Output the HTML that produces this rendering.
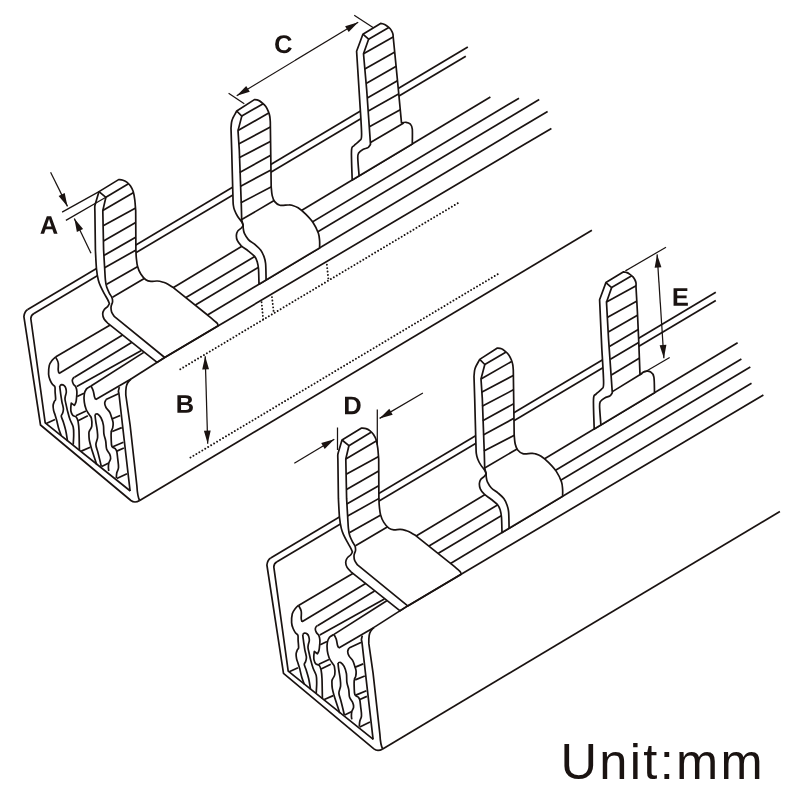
<!DOCTYPE html>
<html><head><meta charset="utf-8"><title>diagram</title>
<style>
html,body{margin:0;padding:0;background:#fff;}
svg{display:block}
.k{fill:none;stroke:#1a1311;stroke-width:1.7;stroke-linecap:butt;stroke-linejoin:round}
.kf{fill:#fff;stroke:#1a1311;stroke-width:1.7;stroke-linecap:butt;stroke-linejoin:round}
.wf{fill:#fff;stroke:none}
.t{fill:none;stroke:#1a1311;stroke-width:1.25}
.ah{fill:#1a1311;stroke:none}
.dot{fill:none;stroke:#1a1311;stroke-width:1.9;stroke-linecap:round;stroke-dasharray:0.01 3.43}
.lbl{font-family:"Liberation Sans",sans-serif;font-weight:bold;font-size:24px;fill:#1a1311;text-anchor:middle}
.unit{font-family:"Liberation Sans",sans-serif;font-size:50.6px;fill:#1a1311;letter-spacing:2.3px}
</style></head><body>
<svg width="790" height="790" viewBox="0 0 790 790">
<rect width="790" height="790" fill="#fff"/>
<g id="o1">
<line class="k" x1="27.7" y1="309.6" x2="467.8" y2="46.9"/>
<line class="k" x1="34.0" y1="313.4" x2="465.8" y2="56.2"/>
<line class="k" x1="172.7" y1="287.9" x2="490.4" y2="97.0"/>
<line class="k" x1="186.0" y1="297.6" x2="519.0" y2="98.2"/>
<line class="k" x1="195.4" y1="304.9" x2="539.2" y2="99.5"/>
<line class="k" x1="207.5" y1="315.0" x2="547.6" y2="111.4"/>
<path class="k" d="M27.7,309.6 Q24.5,311.5 23.9,316.6 L40.5,425 L130.9,500.5 Q134.7,503.5 139.7,500.5"/>
<path class="k" d="M34,313.4 Q31,315 30.8,318.5 L45.2,422.8 L130.3,491"/>
<clipPath id="tc1"><path d="M362.9,34.2 L380.6,23.4 C381.2,23.5 382.9,23.8 384.0,24.2 C385.1,24.6 386.0,25.3 387.0,26.0 C388.0,26.7 389.2,27.6 390.0,28.5 C390.8,29.4 391.5,30.6 392.0,31.6 C392.5,32.6 392.8,33.4 393.0,34.5 C393.2,35.6 393.2,37.4 393.3,38.0 L395.8,63.3 L398.4,90.0 L401.5,122.9 C402.2,122.8 404.5,122.1 406.0,122.3 C407.5,122.5 409.3,123.1 410.4,124.2 C411.4,125.3 412.0,125.9 412.3,129.2 C412.6,132.5 412.3,141.5 412.3,143.9 L352.2,180.0 C352.1,175.2 351.2,156.5 351.5,150.8 C351.8,145.1 352.6,147.4 354.0,145.7 C355.4,144.0 358.4,142.5 359.7,140.6 C361.0,138.7 361.6,141.1 361.6,134.3 C361.6,127.5 360.0,105.7 359.7,100.0 L356.6,51.3 L362.9,34.2 Z"/></clipPath>
<path class="wf" d="M362.9,34.2 L380.6,23.4 C381.2,23.5 382.9,23.8 384.0,24.2 C385.1,24.6 386.0,25.3 387.0,26.0 C388.0,26.7 389.2,27.6 390.0,28.5 C390.8,29.4 391.5,30.6 392.0,31.6 C392.5,32.6 392.8,33.4 393.0,34.5 C393.2,35.6 393.2,37.4 393.3,38.0 L395.8,63.3 L398.4,90.0 L401.5,122.9 C402.2,122.8 404.5,122.1 406.0,122.3 C407.5,122.5 409.3,123.1 410.4,124.2 C411.4,125.3 412.0,125.9 412.3,129.2 C412.6,132.5 412.3,141.5 412.3,143.9 L352.2,180.0 C352.1,175.2 351.2,156.5 351.5,150.8 C351.8,145.1 352.6,147.4 354.0,145.7 C355.4,144.0 358.4,142.5 359.7,140.6 C361.0,138.7 361.6,141.1 361.6,134.3 C361.6,127.5 360.0,105.7 359.7,100.0 L356.6,51.3 L362.9,34.2 Z"/>
<g clip-path="url(#tc1)">
<line class="k" x1="370.5" y1="142.5" x2="403.7" y2="122.9"/>
<line class="k" x1="368.6" y1="39.2" x2="389.2" y2="27.2"/>
<line class="k" x1="363.5" y1="53.8" x2="394.9" y2="36.1"/>
<line class="k" x1="364.8" y1="69.0" x2="396.2" y2="51.3"/>
<line class="k" x1="366.1" y1="83.5" x2="398.0" y2="65.3"/>
<line class="k" x1="367.3" y1="98.1" x2="399.2" y2="79.8"/>
<line class="k" x1="368.3" y1="110.9" x2="401.2" y2="92.6"/>
<line class="k" x1="369.4" y1="126.7" x2="402.5" y2="108.4"/>
</g>
<path class="k" d="M362.9,34.2 L380.6,23.4 C381.2,23.5 382.9,23.8 384.0,24.2 C385.1,24.6 386.0,25.3 387.0,26.0 C388.0,26.7 389.2,27.6 390.0,28.5 C390.8,29.4 391.5,30.6 392.0,31.6 C392.5,32.6 392.8,33.4 393.0,34.5 C393.2,35.6 393.2,37.4 393.3,38.0 L395.8,63.3 L398.4,90.0 L401.5,122.9 C402.2,122.8 404.5,122.1 406.0,122.3 C407.5,122.5 409.3,123.1 410.4,124.2 C411.4,125.3 412.0,125.9 412.3,129.2 C412.6,132.5 412.3,141.5 412.3,143.9 L352.2,180.0 C352.1,175.2 351.2,156.5 351.5,150.8 C351.8,145.1 352.6,147.4 354.0,145.7 C355.4,144.0 358.4,142.5 359.7,140.6 C361.0,138.7 361.6,141.1 361.6,134.3 C361.6,127.5 360.0,105.7 359.7,100.0 L356.6,51.3 L362.9,34.2 Z"/>
<path class="k" d="M359.1,175.9 C358.9,173.0 357.9,162.2 357.8,158.4 C357.7,154.6 357.6,154.8 358.5,153.3 C359.4,151.8 361.3,150.4 362.9,149.5 C364.5,148.6 366.7,148.4 368.0,147.6 C369.3,146.8 370.1,144.9 370.5,144.4 L366.7,90.0 L363.5,53.8 L368.6,39.2 L362.9,34.2"/>
<clipPath id="tc2"><path d="M236.7,111.0 L254.4,99.6 C255.1,99.7 257.2,99.9 258.5,100.4 C259.8,100.9 260.8,101.8 262.0,102.8 C263.2,103.8 264.7,105.0 265.8,106.5 C266.9,108.0 267.7,109.9 268.4,111.6 C269.1,113.3 269.5,114.8 269.8,116.5 C270.1,118.2 270.2,120.9 270.3,121.8 L271.2,187.0 C271.4,188.4 271.6,193.2 272.2,195.6 C272.8,198.0 273.4,200.0 274.7,201.6 C276.0,203.2 277.6,204.6 279.8,205.2 C282.0,205.8 285.9,205.0 287.9,205.0 C289.9,205.0 290.3,204.8 292.0,205.3 C293.7,205.8 295.8,206.3 298.1,207.8 C300.4,209.3 303.2,211.7 305.7,214.2 C308.2,216.7 311.2,219.8 313.3,223.0 C315.4,226.2 317.3,230.2 318.4,233.2 C319.4,236.2 319.4,238.4 319.6,240.8 C319.8,243.2 319.6,246.7 319.6,247.9 L266.1,279.9 L259.0,284.2 C258.9,281.6 258.8,272.5 258.5,268.8 C258.2,265.1 257.8,263.8 257.2,261.7 C256.6,259.6 256.1,258.2 254.6,256.4 C253.1,254.6 250.6,252.9 248.4,251.1 C246.2,249.3 243.2,247.6 241.3,245.8 C239.5,244.0 238.1,242.2 237.3,240.4 C236.5,238.6 236.3,236.7 236.4,235.1 C236.5,233.5 236.9,232.3 237.7,231.1 C238.5,229.9 240.4,228.9 241.3,228.0 C242.2,227.1 242.9,225.8 243.2,225.4 C242.9,224.8 242.6,223.3 241.7,221.8 C240.8,220.3 238.9,218.4 237.7,216.5 C236.5,214.6 235.3,212.2 234.6,210.3 C233.9,208.4 233.6,207.6 233.3,205.0 C233.0,202.4 233.2,204.2 232.9,195.0 C232.6,185.8 232.0,161.2 231.7,150.0 C231.4,138.8 231.1,131.8 231.0,128.1 C231.1,127.1 231.3,123.7 231.6,122.0 C231.9,120.3 232.1,119.8 232.9,118.0 C233.8,116.2 236.1,112.2 236.7,111.0 Z"/></clipPath>
<path class="wf" d="M236.7,111.0 L254.4,99.6 C255.1,99.7 257.2,99.9 258.5,100.4 C259.8,100.9 260.8,101.8 262.0,102.8 C263.2,103.8 264.7,105.0 265.8,106.5 C266.9,108.0 267.7,109.9 268.4,111.6 C269.1,113.3 269.5,114.8 269.8,116.5 C270.1,118.2 270.2,120.9 270.3,121.8 L271.2,187.0 C271.4,188.4 271.6,193.2 272.2,195.6 C272.8,198.0 273.4,200.0 274.7,201.6 C276.0,203.2 277.6,204.6 279.8,205.2 C282.0,205.8 285.9,205.0 287.9,205.0 C289.9,205.0 290.3,204.8 292.0,205.3 C293.7,205.8 295.8,206.3 298.1,207.8 C300.4,209.3 303.2,211.7 305.7,214.2 C308.2,216.7 311.2,219.8 313.3,223.0 C315.4,226.2 317.3,230.2 318.4,233.2 C319.4,236.2 319.4,238.4 319.6,240.8 C319.8,243.2 319.6,246.7 319.6,247.9 L266.1,279.9 L259.0,284.2 C258.9,281.6 258.8,272.5 258.5,268.8 C258.2,265.1 257.8,263.8 257.2,261.7 C256.6,259.6 256.1,258.2 254.6,256.4 C253.1,254.6 250.6,252.9 248.4,251.1 C246.2,249.3 243.2,247.6 241.3,245.8 C239.5,244.0 238.1,242.2 237.3,240.4 C236.5,238.6 236.3,236.7 236.4,235.1 C236.5,233.5 236.9,232.3 237.7,231.1 C238.5,229.9 240.4,228.9 241.3,228.0 C242.2,227.1 242.9,225.8 243.2,225.4 C242.9,224.8 242.6,223.3 241.7,221.8 C240.8,220.3 238.9,218.4 237.7,216.5 C236.5,214.6 235.3,212.2 234.6,210.3 C233.9,208.4 233.6,207.6 233.3,205.0 C233.0,202.4 233.2,204.2 232.9,195.0 C232.6,185.8 232.0,161.2 231.7,150.0 C231.4,138.8 231.1,131.8 231.0,128.1 C231.1,127.1 231.3,123.7 231.6,122.0 C231.9,120.3 232.1,119.8 232.9,118.0 C233.8,116.2 236.1,112.2 236.7,111.0 Z"/>
<g clip-path="url(#tc2)">
<line class="k" x1="241.8" y1="116.1" x2="263.6" y2="103.4"/>
<line class="k" x1="238.0" y1="130.6" x2="268.7" y2="113.0"/>
<line class="k" x1="238.6" y1="143.9" x2="271.8" y2="126.3"/>
<line class="k" x1="239.1" y1="157.8" x2="272.7" y2="140.2"/>
<line class="k" x1="239.7" y1="172.4" x2="273.0" y2="154.1"/>
<line class="k" x1="240.2" y1="186.5" x2="273.3" y2="168.7"/>
<line class="k" x1="240.9" y1="202.7" x2="273.4" y2="185.8"/>
<line class="k" x1="241.7" y1="219.6" x2="275.4" y2="199.8"/>
</g>
<path class="k" d="M236.7,111.0 L254.4,99.6 C255.1,99.7 257.2,99.9 258.5,100.4 C259.8,100.9 260.8,101.8 262.0,102.8 C263.2,103.8 264.7,105.0 265.8,106.5 C266.9,108.0 267.7,109.9 268.4,111.6 C269.1,113.3 269.5,114.8 269.8,116.5 C270.1,118.2 270.2,120.9 270.3,121.8 L271.2,187.0 C271.4,188.4 271.6,193.2 272.2,195.6 C272.8,198.0 273.4,200.0 274.7,201.6 C276.0,203.2 277.6,204.6 279.8,205.2 C282.0,205.8 285.9,205.0 287.9,205.0 C289.9,205.0 290.3,204.8 292.0,205.3 C293.7,205.8 295.8,206.3 298.1,207.8 C300.4,209.3 303.2,211.7 305.7,214.2 C308.2,216.7 311.2,219.8 313.3,223.0 C315.4,226.2 317.3,230.2 318.4,233.2 C319.4,236.2 319.4,238.4 319.6,240.8 C319.8,243.2 319.6,246.7 319.6,247.9 L266.1,279.9 L259.0,284.2 C258.9,281.6 258.8,272.5 258.5,268.8 C258.2,265.1 257.8,263.8 257.2,261.7 C256.6,259.6 256.1,258.2 254.6,256.4 C253.1,254.6 250.6,252.9 248.4,251.1 C246.2,249.3 243.2,247.6 241.3,245.8 C239.5,244.0 238.1,242.2 237.3,240.4 C236.5,238.6 236.3,236.7 236.4,235.1 C236.5,233.5 236.9,232.3 237.7,231.1 C238.5,229.9 240.4,228.9 241.3,228.0 C242.2,227.1 242.9,225.8 243.2,225.4 C242.9,224.8 242.6,223.3 241.7,221.8 C240.8,220.3 238.9,218.4 237.7,216.5 C236.5,214.6 235.3,212.2 234.6,210.3 C233.9,208.4 233.6,207.6 233.3,205.0 C233.0,202.4 233.2,204.2 232.9,195.0 C232.6,185.8 232.0,161.2 231.7,150.0 C231.4,138.8 231.1,131.8 231.0,128.1 C231.1,127.1 231.3,123.7 231.6,122.0 C231.9,120.3 232.1,119.8 232.9,118.0 C233.8,116.2 236.1,112.2 236.7,111.0 Z"/>
<path class="k" d="M266.1,279.9 C266.0,277.2 266.0,267.4 265.6,263.5 C265.2,259.6 264.7,258.6 263.9,256.4 C263.1,254.2 262.2,252.1 260.8,250.2 C259.4,248.3 257.5,246.7 255.4,244.9 C253.3,243.1 250.2,241.5 248.4,239.6 C246.6,237.7 245.3,235.3 244.4,233.4 C243.5,231.5 243.4,229.3 243.2,228.0 C243.0,226.7 243.2,225.8 243.2,225.4 L241.7,220.0 L241.3,205.0 L239.3,150.0 L238.0,130.6 L241.8,116.1 L236.7,111.0"/>
<clipPath id="tc3"><path d="M99.0,191.6 L118.6,179.6 C119.3,179.7 121.6,179.8 123.0,180.2 C124.4,180.6 125.5,181.2 126.8,182.2 C128.1,183.2 129.4,184.4 130.5,186.0 C131.6,187.6 132.5,189.3 133.2,191.6 C133.9,193.9 134.4,196.8 134.8,200.0 C135.2,203.2 135.5,208.8 135.7,210.6 L135.9,250.0 C136.0,251.3 136.0,254.9 136.3,257.6 C136.6,260.4 136.8,263.8 137.6,266.5 C138.3,269.2 139.4,271.8 140.8,274.0 C142.2,276.2 144.1,278.5 145.8,279.7 C147.5,280.9 149.0,281.2 150.9,281.4 C152.8,281.6 155.1,280.9 157.2,281.0 C159.3,281.1 161.7,281.8 163.5,282.3 C165.3,282.9 166.5,283.5 168.0,284.3 C169.5,285.1 171.9,286.7 172.7,287.2 L207.5,315.0 C208.7,316.0 212.8,319.4 214.4,320.8 C216.0,322.2 216.6,322.5 217.2,323.3 C217.8,324.1 218.0,325.4 218.2,325.8 L164.7,357.5 L157.1,362.4 L108.0,323.4 C107.3,322.7 105.0,320.6 104.1,319.0 C103.2,317.4 102.7,315.7 102.7,314.1 C102.7,312.6 103.3,310.9 104.1,309.7 C104.9,308.4 106.7,307.6 107.6,306.6 C108.5,305.6 109.1,304.0 109.4,303.5 C109.1,302.8 108.5,301.2 107.6,299.5 C106.7,297.8 105.3,295.5 104.1,293.3 C102.9,291.1 101.5,288.4 100.5,286.2 C99.5,284.0 99.0,282.9 98.3,280.0 C97.6,277.1 97.0,274.0 96.5,269.0 C96.0,264.0 95.6,253.2 95.4,250.0 L94.9,212.0 C94.9,211.1 94.7,208.0 94.8,206.5 C94.9,205.0 95.5,203.6 95.6,203.0 L99.0,191.6 Z"/></clipPath>
<path class="wf" d="M99.0,191.6 L118.6,179.6 C119.3,179.7 121.6,179.8 123.0,180.2 C124.4,180.6 125.5,181.2 126.8,182.2 C128.1,183.2 129.4,184.4 130.5,186.0 C131.6,187.6 132.5,189.3 133.2,191.6 C133.9,193.9 134.4,196.8 134.8,200.0 C135.2,203.2 135.5,208.8 135.7,210.6 L135.9,250.0 C136.0,251.3 136.0,254.9 136.3,257.6 C136.6,260.4 136.8,263.8 137.6,266.5 C138.3,269.2 139.4,271.8 140.8,274.0 C142.2,276.2 144.1,278.5 145.8,279.7 C147.5,280.9 149.0,281.2 150.9,281.4 C152.8,281.6 155.1,280.9 157.2,281.0 C159.3,281.1 161.7,281.8 163.5,282.3 C165.3,282.9 166.5,283.5 168.0,284.3 C169.5,285.1 171.9,286.7 172.7,287.2 L207.5,315.0 C208.7,316.0 212.8,319.4 214.4,320.8 C216.0,322.2 216.6,322.5 217.2,323.3 C217.8,324.1 218.0,325.4 218.2,325.8 L164.7,357.5 L157.1,362.4 L108.0,323.4 C107.3,322.7 105.0,320.6 104.1,319.0 C103.2,317.4 102.7,315.7 102.7,314.1 C102.7,312.6 103.3,310.9 104.1,309.7 C104.9,308.4 106.7,307.6 107.6,306.6 C108.5,305.6 109.1,304.0 109.4,303.5 C109.1,302.8 108.5,301.2 107.6,299.5 C106.7,297.8 105.3,295.5 104.1,293.3 C102.9,291.1 101.5,288.4 100.5,286.2 C99.5,284.0 99.0,282.9 98.3,280.0 C97.6,277.1 97.0,274.0 96.5,269.0 C96.0,264.0 95.6,253.2 95.4,250.0 L94.9,212.0 C94.9,211.1 94.7,208.0 94.8,206.5 C94.9,205.0 95.5,203.6 95.6,203.0 L99.0,191.6 Z"/>
<g clip-path="url(#tc3)">
<line class="k" x1="105.9" y1="197.3" x2="128.9" y2="183.4"/>
<line class="k" x1="102.8" y1="210.6" x2="134.1" y2="192.2"/>
<line class="k" x1="103.2" y1="225.8" x2="136.6" y2="207.5"/>
<line class="k" x1="103.5" y1="241.0" x2="137.6" y2="221.5"/>
<line class="k" x1="103.8" y1="255.6" x2="138.0" y2="236.0"/>
<line class="k" x1="104.6" y1="267.7" x2="138.2" y2="248.8"/>
<line class="k" x1="106.7" y1="284.2" x2="139.6" y2="265.5"/>
<line class="k" x1="112.5" y1="297.3" x2="145.1" y2="278.1"/>
</g>
<path class="k" d="M99.0,191.6 L118.6,179.6 C119.3,179.7 121.6,179.8 123.0,180.2 C124.4,180.6 125.5,181.2 126.8,182.2 C128.1,183.2 129.4,184.4 130.5,186.0 C131.6,187.6 132.5,189.3 133.2,191.6 C133.9,193.9 134.4,196.8 134.8,200.0 C135.2,203.2 135.5,208.8 135.7,210.6 L135.9,250.0 C136.0,251.3 136.0,254.9 136.3,257.6 C136.6,260.4 136.8,263.8 137.6,266.5 C138.3,269.2 139.4,271.8 140.8,274.0 C142.2,276.2 144.1,278.5 145.8,279.7 C147.5,280.9 149.0,281.2 150.9,281.4 C152.8,281.6 155.1,280.9 157.2,281.0 C159.3,281.1 161.7,281.8 163.5,282.3 C165.3,282.9 166.5,283.5 168.0,284.3 C169.5,285.1 171.9,286.7 172.7,287.2 L207.5,315.0 C208.7,316.0 212.8,319.4 214.4,320.8 C216.0,322.2 216.6,322.5 217.2,323.3 C217.8,324.1 218.0,325.4 218.2,325.8 L164.7,357.5 L157.1,362.4 L108.0,323.4 C107.3,322.7 105.0,320.6 104.1,319.0 C103.2,317.4 102.7,315.7 102.7,314.1 C102.7,312.6 103.3,310.9 104.1,309.7 C104.9,308.4 106.7,307.6 107.6,306.6 C108.5,305.6 109.1,304.0 109.4,303.5 C109.1,302.8 108.5,301.2 107.6,299.5 C106.7,297.8 105.3,295.5 104.1,293.3 C102.9,291.1 101.5,288.4 100.5,286.2 C99.5,284.0 99.0,282.9 98.3,280.0 C97.6,277.1 97.0,274.0 96.5,269.0 C96.0,264.0 95.6,253.2 95.4,250.0 L94.9,212.0 C94.9,211.1 94.7,208.0 94.8,206.5 C94.9,205.0 95.5,203.6 95.6,203.0 L99.0,191.6 Z"/>
<path class="k" d="M164.7,357.5 L114.2,316.3 C113.8,315.6 112.1,313.5 111.6,311.9 C111.1,310.3 110.9,308.2 111.1,306.6 C111.2,305.0 112.3,303.7 112.5,302.2 C112.7,300.7 112.5,299.2 112.0,297.7 C111.5,296.2 110.3,295.1 109.4,293.3 C108.5,291.5 107.4,289.3 106.7,287.1 C106.0,284.9 105.7,283.0 105.4,280.0 C105.1,277.0 105.0,274.0 104.7,269.0 C104.4,264.0 103.8,253.2 103.6,250.0 L102.8,210.6 L105.9,197.3 L99.0,191.6"/>
<line class="k" x1="131.0" y1="379.0" x2="164.7" y2="357.5"/>
<line class="k" x1="164.7" y1="357.5" x2="551.4" y2="128.4"/>
<line class="k" x1="139.7" y1="500.5" x2="591.9" y2="230.3"/>
<line class="k" x1="55.5" y1="357.0" x2="110.2" y2="324.9"/>
<line class="k" x1="59.0" y1="373.4" x2="122.6" y2="335.1"/>
<line class="k" x1="74.5" y1="377.3" x2="131.6" y2="342.6"/>
<line class="k" x1="76.8" y1="386.6" x2="141.4" y2="350.5"/>
<line class="k" x1="91.0" y1="386.0" x2="143.8" y2="352.4"/>
<line class="k" x1="95.8" y1="399.6" x2="131.0" y2="379.0"/>
<path class="k" d="M55.5,357.0 C55.0,357.5 53.4,358.6 52.4,360.0 C51.4,361.4 49.9,363.0 49.3,365.4 C48.7,367.8 48.5,371.8 48.6,374.2 C48.7,376.6 49.4,378.4 50.1,380.1 C50.8,381.8 51.8,383.5 52.6,384.6 C53.4,385.7 54.5,385.6 54.9,386.8 C55.3,388.0 55.0,389.6 55.1,391.7 C55.2,393.8 55.7,397.7 55.6,399.3 C55.5,400.9 54.8,400.3 54.4,401.3 C54.0,402.3 53.2,403.9 53.1,405.4 C53.0,406.9 53.3,408.8 53.6,410.4 C53.9,412.0 54.6,413.3 55.1,415.0 C55.6,416.7 56.1,418.3 56.8,420.7 C57.4,423.1 58.2,427.1 59.0,429.6 C59.8,432.1 60.9,434.8 61.3,435.8"/>
<path class="k" d="M55.5,357.0 C56.0,357.9 57.8,360.6 58.2,362.7 C58.7,364.8 58.1,368.0 58.2,369.8 C58.3,371.6 58.9,372.8 59.0,373.4"/>
<path class="k" d="M59.7,385.9 C59.8,386.9 60.1,389.8 60.4,391.7 C60.6,393.6 60.9,395.5 61.2,397.3 C61.5,399.1 61.7,400.8 62.0,402.3 C62.3,403.8 62.8,405.2 63.0,406.4 C63.2,407.6 63.5,408.3 63.4,409.5 C63.3,410.7 62.9,412.4 62.5,413.5 C62.1,414.6 61.1,414.8 61.3,416.3 C61.5,417.8 62.8,420.1 63.5,422.5 C64.2,424.9 65.0,427.3 65.7,430.4 C66.4,433.5 67.2,439.2 67.5,441.0"/>
<path class="k" d="M59.7,385.9 C60.0,385.7 61.0,384.7 61.7,384.6 C62.5,384.6 63.5,385.0 64.2,385.6 C64.9,386.2 65.5,387.1 65.8,388.2 C66.1,389.3 66.4,390.8 66.3,392.2 C66.2,393.6 65.5,395.1 65.3,396.3 C65.1,397.5 64.9,398.1 65.0,399.3 C65.1,400.5 65.5,402.0 65.8,403.4 C66.1,404.8 66.5,406.5 66.8,407.9 C67.1,409.3 67.2,410.0 67.8,412.0 C68.3,414.0 69.2,417.3 70.1,419.8 C71.0,422.3 72.6,424.5 73.2,427.0 C73.8,429.5 73.7,432.0 73.7,434.9 C73.7,437.8 73.3,443.0 73.2,444.6"/>
<path class="k" d="M74.5,377.3 C74.3,377.4 73.6,377.6 73.2,378.2 C72.8,378.8 72.3,379.6 72.3,380.6 C72.3,381.6 72.8,383.0 73.4,384.1 C74.0,385.2 75.3,385.9 75.9,387.2 C76.5,388.5 76.8,390.0 76.9,391.7 C77.0,393.4 76.8,395.5 76.6,397.3 C76.4,399.1 76.3,401.0 75.9,402.3 C75.5,403.6 74.7,404.9 74.4,405.4 L71.3,403.1 C71.2,403.9 70.8,406.5 70.8,407.9 C70.8,409.3 70.7,410.2 71.0,411.5 C71.3,412.8 71.9,414.5 72.8,415.4 C73.7,416.3 75.4,416.1 76.3,417.1 C77.2,418.1 77.6,419.4 78.1,421.6 C78.5,423.8 78.8,425.7 79.0,430.4 C79.2,435.1 79.3,446.7 79.4,450.0"/>
<line class="k" x1="77.2" y1="396.4" x2="84.0" y2="393.2"/>
<line class="k" x1="75.9" y1="415.8" x2="86.0" y2="411.0"/>
<line class="k" x1="78.1" y1="420.7" x2="87.8" y2="415.8"/>
<path class="k" d="M91.0,386.0 C90.2,386.5 87.6,387.5 86.5,388.9 C85.4,390.3 84.7,392.0 84.3,394.2 C83.9,396.4 84.0,399.7 84.3,402.2 C84.6,404.7 85.3,407.2 86.1,409.3 C86.9,411.4 88.3,413.1 89.2,414.6 C90.1,416.1 91.0,416.3 91.4,418.2 C91.8,420.1 92.1,424.0 91.8,426.1 C91.5,428.2 90.1,429.5 89.6,430.6 C89.1,431.8 89.0,431.4 88.9,433.0 C88.9,434.6 88.9,437.6 89.3,440.0 C89.7,442.4 90.3,444.4 91.1,447.2 C91.9,450.0 93.2,453.9 94.2,456.9 C95.2,459.8 96.4,463.6 96.8,464.9"/>
<path class="k" d="M91.0,386.0 C91.4,386.8 92.6,388.9 93.2,390.7 C93.8,392.5 94.1,395.4 94.5,396.9 C94.9,398.4 95.6,399.2 95.8,399.6"/>
<path class="k" d="M95.0,414.5 C95.4,414.4 96.6,413.4 97.6,414.0 C98.6,414.6 100.1,416.1 101.1,418.0 C102.1,419.9 102.9,422.5 103.4,425.1 C103.9,427.8 103.5,431.2 103.9,433.9 C104.3,436.5 105.2,438.5 105.7,441.0 C106.2,443.5 105.9,446.7 106.6,448.9 C107.3,451.1 109.0,452.6 109.7,454.2 C110.4,455.8 110.8,457.2 110.6,458.7 C110.4,460.2 109.2,461.6 108.8,463.1 C108.4,464.6 108.4,466.2 108.4,467.5 C108.4,468.8 108.7,470.4 108.8,471.0"/>
<path class="k" d="M95.0,414.5 C95.1,415.7 95.4,419.0 95.8,421.6 C96.2,424.2 96.9,427.8 97.2,430.4 C97.5,433.0 97.8,435.1 97.6,437.5 C97.4,439.9 95.9,442.1 95.9,444.5 C95.9,446.9 97.0,449.0 97.7,451.6 C98.4,454.2 99.3,457.9 99.9,460.4 C100.5,462.9 101.1,465.6 101.3,466.6"/>
<line class="k" x1="106.0" y1="399.6" x2="118.4" y2="393.8"/>
<path class="k" d="M106.0,399.6 C105.8,400.2 104.7,401.8 104.7,403.1 C104.7,404.4 105.2,406.0 106.0,407.5 C106.8,409.0 108.7,410.5 109.6,412.0 C110.5,413.5 110.7,414.6 111.3,416.4 C111.9,418.2 112.9,420.7 113.1,422.6 C113.3,424.5 113.0,426.4 112.7,427.9 C112.4,429.4 111.5,429.6 111.3,431.5 C111.0,433.4 111.1,436.5 111.2,439.0 C111.3,441.5 111.2,444.7 111.9,446.3 C112.6,447.9 114.6,448.0 115.4,448.9 C116.2,449.8 116.4,450.0 116.8,451.6 C117.2,453.2 117.4,456.1 117.7,458.7 C118.0,461.3 118.7,465.1 118.5,467.5 C118.3,469.9 117.2,471.0 116.8,472.8 C116.4,474.6 116.4,477.3 116.3,478.2"/>
<line class="k" x1="111.8" y1="419.0" x2="120.2" y2="415.5"/>
<line class="k" x1="112.2" y1="431.5" x2="121.8" y2="427.6"/>
<line class="k" x1="112.8" y1="446.7" x2="123.4" y2="442.3"/>
<line class="k" x1="116.8" y1="451.1" x2="123.9" y2="448.0"/>
<line class="k" x1="116.8" y1="478.6" x2="127.0" y2="473.7"/>
<line class="k" x1="46.2" y1="423.4" x2="55.0" y2="419.4"/>
<line class="k" x1="81.3" y1="451.1" x2="90.2" y2="447.2"/>
<line class="k" x1="101.7" y1="466.6" x2="108.8" y2="463.1"/>
<path class="k" d="M119.3,387.2 C119.2,387.9 118.4,390.3 118.4,391.6 C118.4,392.9 118.4,389.4 119.1,395.0 C119.8,400.6 120.7,409.0 122.5,425.0 C124.3,441.0 128.8,480.0 130.1,491.0"/>
<path class="k" d="M131.1,379 Q126.8,382.5 126.2,387 Q125.6,391 125.8,395 L130.1,425 L136.9,486 Q137.5,497 139.7,500.5"/>
</g>
<g id="o2" transform="translate(243.0,248.4)">
<line class="k" x1="27.7" y1="309.6" x2="472.8" y2="43.9"/>
<line class="k" x1="34.0" y1="313.4" x2="472.8" y2="52.0"/>
<line class="k" x1="172.7" y1="287.9" x2="494.6" y2="94.4"/>
<line class="k" x1="186.0" y1="297.6" x2="498.4" y2="110.5"/>
<line class="k" x1="195.4" y1="304.9" x2="507.3" y2="118.6"/>
<line class="k" x1="207.5" y1="315.0" x2="508.5" y2="134.8"/>
<path class="k" d="M27.7,309.6 Q24.5,311.5 23.9,316.6 L40.5,425 L130.9,500.5 Q134.7,503.5 139.7,500.5"/>
<path class="k" d="M34,313.4 Q31,315 30.8,318.5 L45.2,422.8 L130.3,491"/>
<clipPath id="tc4"><path d="M362.9,34.2 L380.6,23.4 C381.2,23.5 382.9,23.8 384.0,24.2 C385.1,24.6 386.0,25.3 387.0,26.0 C388.0,26.7 389.2,27.6 390.0,28.5 C390.8,29.4 391.5,30.6 392.0,31.6 C392.5,32.6 392.8,33.3 393.0,34.5 C393.2,35.7 393.0,37.9 393.0,38.6 L394.4,63.3 L395.7,92.0 L397.0,126.2 C397.8,125.7 400.2,123.4 402.0,123.0 C403.8,122.6 406.2,122.6 407.7,123.6 C409.2,124.5 410.3,125.2 410.9,128.7 C411.5,132.2 411.4,141.8 411.5,144.4 L351.2,180.6 C351.1,175.7 350.2,156.6 350.5,150.8 C350.8,145.0 351.6,147.4 353.0,145.7 C354.4,144.0 357.4,142.5 358.7,140.6 C360.0,138.7 360.6,141.1 360.6,134.3 C360.6,127.5 359.1,105.7 358.8,100.0 L356.6,51.3 L362.9,34.2 Z"/></clipPath>
<path class="wf" d="M362.9,34.2 L380.6,23.4 C381.2,23.5 382.9,23.8 384.0,24.2 C385.1,24.6 386.0,25.3 387.0,26.0 C388.0,26.7 389.2,27.6 390.0,28.5 C390.8,29.4 391.5,30.6 392.0,31.6 C392.5,32.6 392.8,33.3 393.0,34.5 C393.2,35.7 393.0,37.9 393.0,38.6 L394.4,63.3 L395.7,92.0 L397.0,126.2 C397.8,125.7 400.2,123.4 402.0,123.0 C403.8,122.6 406.2,122.6 407.7,123.6 C409.2,124.5 410.3,125.2 410.9,128.7 C411.5,132.2 411.4,141.8 411.5,144.4 L351.2,180.6 C351.1,175.7 350.2,156.6 350.5,150.8 C350.8,145.0 351.6,147.4 353.0,145.7 C354.4,144.0 357.4,142.5 358.7,140.6 C360.0,138.7 360.6,141.1 360.6,134.3 C360.6,127.5 359.1,105.7 358.8,100.0 L356.6,51.3 L362.9,34.2 Z"/>
<g clip-path="url(#tc4)">
<line class="k" x1="369.4" y1="143.2" x2="399.3" y2="124.9"/>
<line class="k" x1="368.6" y1="39.2" x2="389.2" y2="27.2"/>
<line class="k" x1="363.0" y1="53.8" x2="395.4" y2="36.1"/>
<line class="k" x1="364.2" y1="69.0" x2="396.3" y2="51.3"/>
<line class="k" x1="365.3" y1="83.5" x2="397.1" y2="65.3"/>
<line class="k" x1="366.4" y1="98.1" x2="397.8" y2="79.7"/>
<line class="k" x1="367.4" y1="110.9" x2="398.2" y2="92.5"/>
<line class="k" x1="368.4" y1="126.7" x2="398.7" y2="108.3"/>
</g>
<path class="k" d="M362.9,34.2 L380.6,23.4 C381.2,23.5 382.9,23.8 384.0,24.2 C385.1,24.6 386.0,25.3 387.0,26.0 C388.0,26.7 389.2,27.6 390.0,28.5 C390.8,29.4 391.5,30.6 392.0,31.6 C392.5,32.6 392.8,33.3 393.0,34.5 C393.2,35.7 393.0,37.9 393.0,38.6 L394.4,63.3 L395.7,92.0 L397.0,126.2 C397.8,125.7 400.2,123.4 402.0,123.0 C403.8,122.6 406.2,122.6 407.7,123.6 C409.2,124.5 410.3,125.2 410.9,128.7 C411.5,132.2 411.4,141.8 411.5,144.4 L351.2,180.6 C351.1,175.7 350.2,156.6 350.5,150.8 C350.8,145.0 351.6,147.4 353.0,145.7 C354.4,144.0 357.4,142.5 358.7,140.6 C360.0,138.7 360.6,141.1 360.6,134.3 C360.6,127.5 359.1,105.7 358.8,100.0 L356.6,51.3 L362.9,34.2 Z"/>
<path class="k" d="M357.9,176.6 C357.7,173.6 356.7,162.3 356.6,158.4 C356.5,154.5 356.5,154.8 357.3,153.3 C358.1,151.8 360.1,150.4 361.7,149.5 C363.3,148.6 365.5,148.4 366.8,147.6 C368.1,146.8 368.9,144.9 369.3,144.4 L365.5,90.0 L363.5,53.8 L368.6,39.2 L362.9,34.2"/>
<clipPath id="tc5"><path d="M236.7,111.0 L254.4,99.6 C255.1,99.7 257.2,99.9 258.5,100.4 C259.8,100.9 260.8,101.8 262.0,102.8 C263.2,103.8 264.7,105.0 265.8,106.5 C266.9,108.0 267.7,109.9 268.4,111.6 C269.1,113.3 269.5,114.8 269.8,116.5 C270.1,118.2 270.2,120.9 270.3,121.8 L271.2,187.0 C271.4,188.4 271.6,193.2 272.2,195.6 C272.8,198.0 273.4,200.0 274.7,201.6 C276.0,203.2 277.6,204.6 279.8,205.2 C282.0,205.8 285.9,205.0 287.9,205.0 C289.9,205.0 290.3,204.8 292.0,205.3 C293.7,205.8 295.8,206.3 298.1,207.8 C300.4,209.3 303.2,211.7 305.7,214.2 C308.2,216.7 311.2,219.8 313.3,223.0 C315.4,226.2 317.3,230.2 318.4,233.2 C319.4,236.2 319.4,238.4 319.6,240.8 C319.8,243.2 319.6,246.7 319.6,247.9 L266.1,279.9 L259.0,284.2 C258.9,281.6 258.8,272.5 258.5,268.8 C258.2,265.1 257.8,263.8 257.2,261.7 C256.6,259.6 256.1,258.2 254.6,256.4 C253.1,254.6 250.6,252.9 248.4,251.1 C246.2,249.3 243.2,247.6 241.3,245.8 C239.5,244.0 238.1,242.2 237.3,240.4 C236.5,238.6 236.3,236.7 236.4,235.1 C236.5,233.5 236.9,232.3 237.7,231.1 C238.5,229.9 240.4,228.9 241.3,228.0 C242.2,227.1 242.9,225.8 243.2,225.4 C242.9,224.8 242.6,223.3 241.7,221.8 C240.8,220.3 238.9,218.4 237.7,216.5 C236.5,214.6 235.3,212.2 234.6,210.3 C233.9,208.4 233.6,207.6 233.3,205.0 C233.0,202.4 233.2,204.2 232.9,195.0 C232.6,185.8 232.0,161.2 231.7,150.0 C231.4,138.8 231.1,131.8 231.0,128.1 C231.1,127.1 231.3,123.7 231.6,122.0 C231.9,120.3 232.1,119.8 232.9,118.0 C233.8,116.2 236.1,112.2 236.7,111.0 Z"/></clipPath>
<path class="wf" d="M236.7,111.0 L254.4,99.6 C255.1,99.7 257.2,99.9 258.5,100.4 C259.8,100.9 260.8,101.8 262.0,102.8 C263.2,103.8 264.7,105.0 265.8,106.5 C266.9,108.0 267.7,109.9 268.4,111.6 C269.1,113.3 269.5,114.8 269.8,116.5 C270.1,118.2 270.2,120.9 270.3,121.8 L271.2,187.0 C271.4,188.4 271.6,193.2 272.2,195.6 C272.8,198.0 273.4,200.0 274.7,201.6 C276.0,203.2 277.6,204.6 279.8,205.2 C282.0,205.8 285.9,205.0 287.9,205.0 C289.9,205.0 290.3,204.8 292.0,205.3 C293.7,205.8 295.8,206.3 298.1,207.8 C300.4,209.3 303.2,211.7 305.7,214.2 C308.2,216.7 311.2,219.8 313.3,223.0 C315.4,226.2 317.3,230.2 318.4,233.2 C319.4,236.2 319.4,238.4 319.6,240.8 C319.8,243.2 319.6,246.7 319.6,247.9 L266.1,279.9 L259.0,284.2 C258.9,281.6 258.8,272.5 258.5,268.8 C258.2,265.1 257.8,263.8 257.2,261.7 C256.6,259.6 256.1,258.2 254.6,256.4 C253.1,254.6 250.6,252.9 248.4,251.1 C246.2,249.3 243.2,247.6 241.3,245.8 C239.5,244.0 238.1,242.2 237.3,240.4 C236.5,238.6 236.3,236.7 236.4,235.1 C236.5,233.5 236.9,232.3 237.7,231.1 C238.5,229.9 240.4,228.9 241.3,228.0 C242.2,227.1 242.9,225.8 243.2,225.4 C242.9,224.8 242.6,223.3 241.7,221.8 C240.8,220.3 238.9,218.4 237.7,216.5 C236.5,214.6 235.3,212.2 234.6,210.3 C233.9,208.4 233.6,207.6 233.3,205.0 C233.0,202.4 233.2,204.2 232.9,195.0 C232.6,185.8 232.0,161.2 231.7,150.0 C231.4,138.8 231.1,131.8 231.0,128.1 C231.1,127.1 231.3,123.7 231.6,122.0 C231.9,120.3 232.1,119.8 232.9,118.0 C233.8,116.2 236.1,112.2 236.7,111.0 Z"/>
<g clip-path="url(#tc5)">
<line class="k" x1="241.8" y1="116.1" x2="263.6" y2="103.4"/>
<line class="k" x1="238.0" y1="130.6" x2="268.7" y2="113.0"/>
<line class="k" x1="238.6" y1="143.9" x2="271.8" y2="126.3"/>
<line class="k" x1="239.1" y1="157.8" x2="272.7" y2="140.2"/>
<line class="k" x1="239.7" y1="172.4" x2="273.0" y2="154.1"/>
<line class="k" x1="240.2" y1="186.5" x2="273.3" y2="168.7"/>
<line class="k" x1="240.9" y1="202.7" x2="273.4" y2="185.8"/>
<line class="k" x1="241.7" y1="219.6" x2="275.4" y2="199.8"/>
</g>
<path class="k" d="M236.7,111.0 L254.4,99.6 C255.1,99.7 257.2,99.9 258.5,100.4 C259.8,100.9 260.8,101.8 262.0,102.8 C263.2,103.8 264.7,105.0 265.8,106.5 C266.9,108.0 267.7,109.9 268.4,111.6 C269.1,113.3 269.5,114.8 269.8,116.5 C270.1,118.2 270.2,120.9 270.3,121.8 L271.2,187.0 C271.4,188.4 271.6,193.2 272.2,195.6 C272.8,198.0 273.4,200.0 274.7,201.6 C276.0,203.2 277.6,204.6 279.8,205.2 C282.0,205.8 285.9,205.0 287.9,205.0 C289.9,205.0 290.3,204.8 292.0,205.3 C293.7,205.8 295.8,206.3 298.1,207.8 C300.4,209.3 303.2,211.7 305.7,214.2 C308.2,216.7 311.2,219.8 313.3,223.0 C315.4,226.2 317.3,230.2 318.4,233.2 C319.4,236.2 319.4,238.4 319.6,240.8 C319.8,243.2 319.6,246.7 319.6,247.9 L266.1,279.9 L259.0,284.2 C258.9,281.6 258.8,272.5 258.5,268.8 C258.2,265.1 257.8,263.8 257.2,261.7 C256.6,259.6 256.1,258.2 254.6,256.4 C253.1,254.6 250.6,252.9 248.4,251.1 C246.2,249.3 243.2,247.6 241.3,245.8 C239.5,244.0 238.1,242.2 237.3,240.4 C236.5,238.6 236.3,236.7 236.4,235.1 C236.5,233.5 236.9,232.3 237.7,231.1 C238.5,229.9 240.4,228.9 241.3,228.0 C242.2,227.1 242.9,225.8 243.2,225.4 C242.9,224.8 242.6,223.3 241.7,221.8 C240.8,220.3 238.9,218.4 237.7,216.5 C236.5,214.6 235.3,212.2 234.6,210.3 C233.9,208.4 233.6,207.6 233.3,205.0 C233.0,202.4 233.2,204.2 232.9,195.0 C232.6,185.8 232.0,161.2 231.7,150.0 C231.4,138.8 231.1,131.8 231.0,128.1 C231.1,127.1 231.3,123.7 231.6,122.0 C231.9,120.3 232.1,119.8 232.9,118.0 C233.8,116.2 236.1,112.2 236.7,111.0 Z"/>
<path class="k" d="M266.1,279.9 C266.0,277.2 266.0,267.4 265.6,263.5 C265.2,259.6 264.7,258.6 263.9,256.4 C263.1,254.2 262.2,252.1 260.8,250.2 C259.4,248.3 257.5,246.7 255.4,244.9 C253.3,243.1 250.2,241.5 248.4,239.6 C246.6,237.7 245.3,235.3 244.4,233.4 C243.5,231.5 243.4,229.3 243.2,228.0 C243.0,226.7 243.2,225.8 243.2,225.4 L241.7,220.0 L241.3,205.0 L239.3,150.0 L238.0,130.6 L241.8,116.1 L236.7,111.0"/>
<clipPath id="tc6"><path d="M99.0,191.6 L118.6,179.6 C119.3,179.7 121.6,179.8 123.0,180.2 C124.4,180.6 125.5,181.2 126.8,182.2 C128.1,183.2 129.4,184.4 130.5,186.0 C131.6,187.6 132.5,189.3 133.2,191.6 C133.9,193.9 134.4,196.8 134.8,200.0 C135.2,203.2 135.5,208.8 135.7,210.6 L135.9,250.0 C136.0,251.3 136.0,254.9 136.3,257.6 C136.6,260.4 136.8,263.8 137.6,266.5 C138.3,269.2 139.4,271.8 140.8,274.0 C142.2,276.2 144.1,278.5 145.8,279.7 C147.5,280.9 149.0,281.2 150.9,281.4 C152.8,281.6 155.1,280.9 157.2,281.0 C159.3,281.1 161.7,281.8 163.5,282.3 C165.3,282.9 166.5,283.5 168.0,284.3 C169.5,285.1 171.9,286.7 172.7,287.2 L207.5,315.0 C208.7,316.0 212.8,319.4 214.4,320.8 C216.0,322.2 216.6,322.5 217.2,323.3 C217.8,324.1 218.0,325.4 218.2,325.8 L164.7,357.5 L157.1,362.4 L108.0,323.4 C107.3,322.7 105.0,320.6 104.1,319.0 C103.2,317.4 102.7,315.7 102.7,314.1 C102.7,312.6 103.3,310.9 104.1,309.7 C104.9,308.4 106.7,307.6 107.6,306.6 C108.5,305.6 109.1,304.0 109.4,303.5 C109.1,302.8 108.5,301.2 107.6,299.5 C106.7,297.8 105.3,295.5 104.1,293.3 C102.9,291.1 101.5,288.4 100.5,286.2 C99.5,284.0 99.0,282.9 98.3,280.0 C97.6,277.1 97.0,274.0 96.5,269.0 C96.0,264.0 95.6,253.2 95.4,250.0 L94.9,212.0 C94.9,211.1 94.7,208.0 94.8,206.5 C94.9,205.0 95.5,203.6 95.6,203.0 L99.0,191.6 Z"/></clipPath>
<path class="wf" d="M99.0,191.6 L118.6,179.6 C119.3,179.7 121.6,179.8 123.0,180.2 C124.4,180.6 125.5,181.2 126.8,182.2 C128.1,183.2 129.4,184.4 130.5,186.0 C131.6,187.6 132.5,189.3 133.2,191.6 C133.9,193.9 134.4,196.8 134.8,200.0 C135.2,203.2 135.5,208.8 135.7,210.6 L135.9,250.0 C136.0,251.3 136.0,254.9 136.3,257.6 C136.6,260.4 136.8,263.8 137.6,266.5 C138.3,269.2 139.4,271.8 140.8,274.0 C142.2,276.2 144.1,278.5 145.8,279.7 C147.5,280.9 149.0,281.2 150.9,281.4 C152.8,281.6 155.1,280.9 157.2,281.0 C159.3,281.1 161.7,281.8 163.5,282.3 C165.3,282.9 166.5,283.5 168.0,284.3 C169.5,285.1 171.9,286.7 172.7,287.2 L207.5,315.0 C208.7,316.0 212.8,319.4 214.4,320.8 C216.0,322.2 216.6,322.5 217.2,323.3 C217.8,324.1 218.0,325.4 218.2,325.8 L164.7,357.5 L157.1,362.4 L108.0,323.4 C107.3,322.7 105.0,320.6 104.1,319.0 C103.2,317.4 102.7,315.7 102.7,314.1 C102.7,312.6 103.3,310.9 104.1,309.7 C104.9,308.4 106.7,307.6 107.6,306.6 C108.5,305.6 109.1,304.0 109.4,303.5 C109.1,302.8 108.5,301.2 107.6,299.5 C106.7,297.8 105.3,295.5 104.1,293.3 C102.9,291.1 101.5,288.4 100.5,286.2 C99.5,284.0 99.0,282.9 98.3,280.0 C97.6,277.1 97.0,274.0 96.5,269.0 C96.0,264.0 95.6,253.2 95.4,250.0 L94.9,212.0 C94.9,211.1 94.7,208.0 94.8,206.5 C94.9,205.0 95.5,203.6 95.6,203.0 L99.0,191.6 Z"/>
<g clip-path="url(#tc6)">
<line class="k" x1="105.9" y1="197.3" x2="128.9" y2="183.4"/>
<line class="k" x1="102.8" y1="210.6" x2="134.1" y2="192.2"/>
<line class="k" x1="103.2" y1="225.8" x2="136.6" y2="207.5"/>
<line class="k" x1="103.5" y1="241.0" x2="137.6" y2="221.5"/>
<line class="k" x1="103.8" y1="255.6" x2="138.0" y2="236.0"/>
<line class="k" x1="104.6" y1="267.7" x2="138.2" y2="248.8"/>
<line class="k" x1="106.7" y1="284.2" x2="139.6" y2="265.5"/>
<line class="k" x1="112.5" y1="297.3" x2="145.1" y2="278.1"/>
</g>
<path class="k" d="M99.0,191.6 L118.6,179.6 C119.3,179.7 121.6,179.8 123.0,180.2 C124.4,180.6 125.5,181.2 126.8,182.2 C128.1,183.2 129.4,184.4 130.5,186.0 C131.6,187.6 132.5,189.3 133.2,191.6 C133.9,193.9 134.4,196.8 134.8,200.0 C135.2,203.2 135.5,208.8 135.7,210.6 L135.9,250.0 C136.0,251.3 136.0,254.9 136.3,257.6 C136.6,260.4 136.8,263.8 137.6,266.5 C138.3,269.2 139.4,271.8 140.8,274.0 C142.2,276.2 144.1,278.5 145.8,279.7 C147.5,280.9 149.0,281.2 150.9,281.4 C152.8,281.6 155.1,280.9 157.2,281.0 C159.3,281.1 161.7,281.8 163.5,282.3 C165.3,282.9 166.5,283.5 168.0,284.3 C169.5,285.1 171.9,286.7 172.7,287.2 L207.5,315.0 C208.7,316.0 212.8,319.4 214.4,320.8 C216.0,322.2 216.6,322.5 217.2,323.3 C217.8,324.1 218.0,325.4 218.2,325.8 L164.7,357.5 L157.1,362.4 L108.0,323.4 C107.3,322.7 105.0,320.6 104.1,319.0 C103.2,317.4 102.7,315.7 102.7,314.1 C102.7,312.6 103.3,310.9 104.1,309.7 C104.9,308.4 106.7,307.6 107.6,306.6 C108.5,305.6 109.1,304.0 109.4,303.5 C109.1,302.8 108.5,301.2 107.6,299.5 C106.7,297.8 105.3,295.5 104.1,293.3 C102.9,291.1 101.5,288.4 100.5,286.2 C99.5,284.0 99.0,282.9 98.3,280.0 C97.6,277.1 97.0,274.0 96.5,269.0 C96.0,264.0 95.6,253.2 95.4,250.0 L94.9,212.0 C94.9,211.1 94.7,208.0 94.8,206.5 C94.9,205.0 95.5,203.6 95.6,203.0 L99.0,191.6 Z"/>
<path class="k" d="M164.7,357.5 L114.2,316.3 C113.8,315.6 112.1,313.5 111.6,311.9 C111.1,310.3 110.9,308.2 111.1,306.6 C111.2,305.0 112.3,303.7 112.5,302.2 C112.7,300.7 112.5,299.2 112.0,297.7 C111.5,296.2 110.3,295.1 109.4,293.3 C108.5,291.5 107.4,289.3 106.7,287.1 C106.0,284.9 105.7,283.0 105.4,280.0 C105.1,277.0 105.0,274.0 104.7,269.0 C104.4,264.0 103.8,253.2 103.6,250.0 L102.8,210.6 L105.9,197.3 L99.0,191.6"/>
<line class="k" x1="131.0" y1="379.0" x2="164.7" y2="357.5"/>
<line class="k" x1="164.7" y1="357.5" x2="520.4" y2="146.7"/>
<line class="k" x1="139.7" y1="500.5" x2="536.9" y2="263.2"/>
<line class="k" x1="55.5" y1="357.0" x2="110.2" y2="324.9"/>
<line class="k" x1="59.0" y1="373.4" x2="122.6" y2="335.1"/>
<line class="k" x1="74.5" y1="377.3" x2="131.6" y2="342.6"/>
<line class="k" x1="76.8" y1="386.6" x2="141.4" y2="350.5"/>
<line class="k" x1="91.0" y1="386.0" x2="143.8" y2="352.4"/>
<line class="k" x1="95.8" y1="399.6" x2="131.0" y2="379.0"/>
<path class="k" d="M55.5,357.0 C55.0,357.5 53.4,358.6 52.4,360.0 C51.4,361.4 49.9,363.0 49.3,365.4 C48.7,367.8 48.5,371.8 48.6,374.2 C48.7,376.6 49.4,378.4 50.1,380.1 C50.8,381.8 51.8,383.5 52.6,384.6 C53.4,385.7 54.5,385.6 54.9,386.8 C55.3,388.0 55.0,389.6 55.1,391.7 C55.2,393.8 55.7,397.7 55.6,399.3 C55.5,400.9 54.8,400.3 54.4,401.3 C54.0,402.3 53.2,403.9 53.1,405.4 C53.0,406.9 53.3,408.8 53.6,410.4 C53.9,412.0 54.6,413.3 55.1,415.0 C55.6,416.7 56.1,418.3 56.8,420.7 C57.4,423.1 58.2,427.1 59.0,429.6 C59.8,432.1 60.9,434.8 61.3,435.8"/>
<path class="k" d="M55.5,357.0 C56.0,357.9 57.8,360.6 58.2,362.7 C58.7,364.8 58.1,368.0 58.2,369.8 C58.3,371.6 58.9,372.8 59.0,373.4"/>
<path class="k" d="M59.7,385.9 C59.8,386.9 60.1,389.8 60.4,391.7 C60.6,393.6 60.9,395.5 61.2,397.3 C61.5,399.1 61.7,400.8 62.0,402.3 C62.3,403.8 62.8,405.2 63.0,406.4 C63.2,407.6 63.5,408.3 63.4,409.5 C63.3,410.7 62.9,412.4 62.5,413.5 C62.1,414.6 61.1,414.8 61.3,416.3 C61.5,417.8 62.8,420.1 63.5,422.5 C64.2,424.9 65.0,427.3 65.7,430.4 C66.4,433.5 67.2,439.2 67.5,441.0"/>
<path class="k" d="M59.7,385.9 C60.0,385.7 61.0,384.7 61.7,384.6 C62.5,384.6 63.5,385.0 64.2,385.6 C64.9,386.2 65.5,387.1 65.8,388.2 C66.1,389.3 66.4,390.8 66.3,392.2 C66.2,393.6 65.5,395.1 65.3,396.3 C65.1,397.5 64.9,398.1 65.0,399.3 C65.1,400.5 65.5,402.0 65.8,403.4 C66.1,404.8 66.5,406.5 66.8,407.9 C67.1,409.3 67.2,410.0 67.8,412.0 C68.3,414.0 69.2,417.3 70.1,419.8 C71.0,422.3 72.6,424.5 73.2,427.0 C73.8,429.5 73.7,432.0 73.7,434.9 C73.7,437.8 73.3,443.0 73.2,444.6"/>
<path class="k" d="M74.5,377.3 C74.3,377.4 73.6,377.6 73.2,378.2 C72.8,378.8 72.3,379.6 72.3,380.6 C72.3,381.6 72.8,383.0 73.4,384.1 C74.0,385.2 75.3,385.9 75.9,387.2 C76.5,388.5 76.8,390.0 76.9,391.7 C77.0,393.4 76.8,395.5 76.6,397.3 C76.4,399.1 76.3,401.0 75.9,402.3 C75.5,403.6 74.7,404.9 74.4,405.4 L71.3,403.1 C71.2,403.9 70.8,406.5 70.8,407.9 C70.8,409.3 70.7,410.2 71.0,411.5 C71.3,412.8 71.9,414.5 72.8,415.4 C73.7,416.3 75.4,416.1 76.3,417.1 C77.2,418.1 77.6,419.4 78.1,421.6 C78.5,423.8 78.8,425.7 79.0,430.4 C79.2,435.1 79.3,446.7 79.4,450.0"/>
<line class="k" x1="77.2" y1="396.4" x2="84.0" y2="393.2"/>
<line class="k" x1="75.9" y1="415.8" x2="86.0" y2="411.0"/>
<line class="k" x1="78.1" y1="420.7" x2="87.8" y2="415.8"/>
<path class="k" d="M91.0,386.0 C90.2,386.5 87.6,387.5 86.5,388.9 C85.4,390.3 84.7,392.0 84.3,394.2 C83.9,396.4 84.0,399.7 84.3,402.2 C84.6,404.7 85.3,407.2 86.1,409.3 C86.9,411.4 88.3,413.1 89.2,414.6 C90.1,416.1 91.0,416.3 91.4,418.2 C91.8,420.1 92.1,424.0 91.8,426.1 C91.5,428.2 90.1,429.5 89.6,430.6 C89.1,431.8 89.0,431.4 88.9,433.0 C88.9,434.6 88.9,437.6 89.3,440.0 C89.7,442.4 90.3,444.4 91.1,447.2 C91.9,450.0 93.2,453.9 94.2,456.9 C95.2,459.8 96.4,463.6 96.8,464.9"/>
<path class="k" d="M91.0,386.0 C91.4,386.8 92.6,388.9 93.2,390.7 C93.8,392.5 94.1,395.4 94.5,396.9 C94.9,398.4 95.6,399.2 95.8,399.6"/>
<path class="k" d="M95.0,414.5 C95.4,414.4 96.6,413.4 97.6,414.0 C98.6,414.6 100.1,416.1 101.1,418.0 C102.1,419.9 102.9,422.5 103.4,425.1 C103.9,427.8 103.5,431.2 103.9,433.9 C104.3,436.5 105.2,438.5 105.7,441.0 C106.2,443.5 105.9,446.7 106.6,448.9 C107.3,451.1 109.0,452.6 109.7,454.2 C110.4,455.8 110.8,457.2 110.6,458.7 C110.4,460.2 109.2,461.6 108.8,463.1 C108.4,464.6 108.4,466.2 108.4,467.5 C108.4,468.8 108.7,470.4 108.8,471.0"/>
<path class="k" d="M95.0,414.5 C95.1,415.7 95.4,419.0 95.8,421.6 C96.2,424.2 96.9,427.8 97.2,430.4 C97.5,433.0 97.8,435.1 97.6,437.5 C97.4,439.9 95.9,442.1 95.9,444.5 C95.9,446.9 97.0,449.0 97.7,451.6 C98.4,454.2 99.3,457.9 99.9,460.4 C100.5,462.9 101.1,465.6 101.3,466.6"/>
<line class="k" x1="106.0" y1="399.6" x2="118.4" y2="393.8"/>
<path class="k" d="M106.0,399.6 C105.8,400.2 104.7,401.8 104.7,403.1 C104.7,404.4 105.2,406.0 106.0,407.5 C106.8,409.0 108.7,410.5 109.6,412.0 C110.5,413.5 110.7,414.6 111.3,416.4 C111.9,418.2 112.9,420.7 113.1,422.6 C113.3,424.5 113.0,426.4 112.7,427.9 C112.4,429.4 111.5,429.6 111.3,431.5 C111.0,433.4 111.1,436.5 111.2,439.0 C111.3,441.5 111.2,444.7 111.9,446.3 C112.6,447.9 114.6,448.0 115.4,448.9 C116.2,449.8 116.4,450.0 116.8,451.6 C117.2,453.2 117.4,456.1 117.7,458.7 C118.0,461.3 118.7,465.1 118.5,467.5 C118.3,469.9 117.2,471.0 116.8,472.8 C116.4,474.6 116.4,477.3 116.3,478.2"/>
<line class="k" x1="111.8" y1="419.0" x2="120.2" y2="415.5"/>
<line class="k" x1="112.2" y1="431.5" x2="121.8" y2="427.6"/>
<line class="k" x1="112.8" y1="446.7" x2="123.4" y2="442.3"/>
<line class="k" x1="116.8" y1="451.1" x2="123.9" y2="448.0"/>
<line class="k" x1="116.8" y1="478.6" x2="127.0" y2="473.7"/>
<line class="k" x1="46.2" y1="423.4" x2="55.0" y2="419.4"/>
<line class="k" x1="81.3" y1="451.1" x2="90.2" y2="447.2"/>
<line class="k" x1="101.7" y1="466.6" x2="108.8" y2="463.1"/>
<path class="k" d="M119.3,387.2 C119.2,387.9 118.4,390.3 118.4,391.6 C118.4,392.9 118.4,389.4 119.1,395.0 C119.8,400.6 120.7,409.0 122.5,425.0 C124.3,441.0 128.8,480.0 130.1,491.0"/>
<path class="k" d="M131.1,379 Q126.8,382.5 126.2,387 Q125.6,391 125.8,395 L130.1,425 L136.9,486 Q137.5,497 139.7,500.5"/>
</g>
<g id="dims" style="opacity:0.999">
<line class="t" x1="50.6" y1="172.3" x2="67.5" y2="206.4"/>
<polygon class="ah" points="67.5,206.4 58.6,196.1 64.7,193.1"/>
<line class="t" x1="91.0" y1="253.3" x2="74.3" y2="218.5"/>
<polygon class="ah" points="74.3,218.5 83.1,228.9 76.9,231.9"/>
<line class="t" x1="62.1" y1="212.1" x2="99.0" y2="191.6"/>
<line class="t" x1="65.9" y1="220.4" x2="105.9" y2="197.3"/>
<line class="t" x1="236.7" y1="95.7" x2="358.2" y2="22.3"/>
<polygon class="ah" points="236.7,95.7 246.2,86.0 249.8,91.8"/>
<polygon class="ah" points="358.2,22.3 348.7,32.0 345.1,26.2"/>
<line class="t" x1="228.6" y1="93.3" x2="244.3" y2="103.8"/>
<line class="t" x1="354.2" y1="15.2" x2="373.0" y2="27.5"/>
<line class="t" x1="205.2" y1="356.2" x2="207.7" y2="443.8"/>
<polygon class="ah" points="205.2,356.2 209.0,369.3 202.2,369.5"/>
<polygon class="ah" points="207.7,443.8 203.9,430.7 210.7,430.5"/>
<line class="t" x1="294.3" y1="463.2" x2="334.3" y2="439.2"/>
<polygon class="ah" points="334.3,439.2 324.7,448.9 321.2,443.1"/>
<line class="t" x1="422.9" y1="393.0" x2="379.6" y2="418.4"/>
<polygon class="ah" points="379.6,418.4 389.3,408.8 392.7,414.7"/>
<line class="t" x1="337.5" y1="427.5" x2="337.5" y2="450.0"/>
<line class="t" x1="377.3" y1="409.5" x2="377.3" y2="445.0"/>
<line class="t" x1="625.4" y1="270.9" x2="666.0" y2="247.3"/>
<line class="t" x1="644.4" y1="372.2" x2="669.7" y2="357.5"/>
<line class="t" x1="657.1" y1="254.4" x2="663.9" y2="358.2"/>
<polygon class="ah" points="657.1,254.4 661.4,267.3 654.6,267.8"/>
<polygon class="ah" points="663.9,358.2 659.6,345.3 666.4,344.8"/>
<line class="dot" x1="180.3" y1="369.2" x2="459.0" y2="202.4"/>
<line class="dot" x1="190.5" y1="457.5" x2="500.0" y2="272.8"/>
<line class="dot" x1="261.6" y1="302.2" x2="263.2" y2="319.6"/>
<line class="dot" x1="272.0" y1="297.1" x2="273.8" y2="313.0"/>
<line class="dot" x1="326.9" y1="264.7" x2="328.5" y2="280.4"/>
<path class="ah" transform="translate(39.79,233.70) scale(0.01245,-0.01245)" d="M1133 0 1008 360H471L346 0H51L565 1409H913L1425 0ZM739 1192 733 1170Q723 1134 709.0 1088.0Q695 1042 537 582H942L803 987L760 1123Z"/>
<path class="ah" transform="translate(175.69,412.70) scale(0.01245,-0.01245)" d="M1386 402Q1386 210 1242.0 105.0Q1098 0 842 0H137V1409H782Q1040 1409 1172.5 1319.5Q1305 1230 1305 1055Q1305 935 1238.5 852.5Q1172 770 1036 741Q1207 721 1296.5 633.5Q1386 546 1386 402ZM1008 1015Q1008 1110 947.5 1150.0Q887 1190 768 1190H432V841H770Q895 841 951.5 884.5Q1008 928 1008 1015ZM1090 425Q1090 623 806 623H432V219H817Q959 219 1024.5 270.5Q1090 322 1090 425Z"/>
<path class="ah" transform="translate(274.09,53.00) scale(0.01245,-0.01245)" d="M795 212Q1062 212 1166 480L1423 383Q1340 179 1179.5 79.5Q1019 -20 795 -20Q455 -20 269.5 172.5Q84 365 84 711Q84 1058 263.0 1244.0Q442 1430 782 1430Q1030 1430 1186.0 1330.5Q1342 1231 1405 1038L1145 967Q1112 1073 1015.5 1135.5Q919 1198 788 1198Q588 1198 484.5 1074.0Q381 950 381 711Q381 468 487.5 340.0Q594 212 795 212Z"/>
<path class="ah" transform="translate(343.29,414.20) scale(0.01245,-0.01245)" d="M1393 715Q1393 497 1307.5 334.5Q1222 172 1065.5 86.0Q909 0 707 0H137V1409H647Q1003 1409 1198.0 1229.5Q1393 1050 1393 715ZM1096 715Q1096 942 978.0 1061.5Q860 1181 641 1181H432V228H682Q872 228 984.0 359.0Q1096 490 1096 715Z"/>
<path class="ah" transform="translate(671.85,305.70) scale(0.01245,-0.01245)" d="M137 0V1409H1245V1181H432V827H1184V599H432V228H1286V0Z"/>
<text class="unit" x="560.5" y="778.5">Unit:mm</text>
</g>
</svg>
</body></html>
